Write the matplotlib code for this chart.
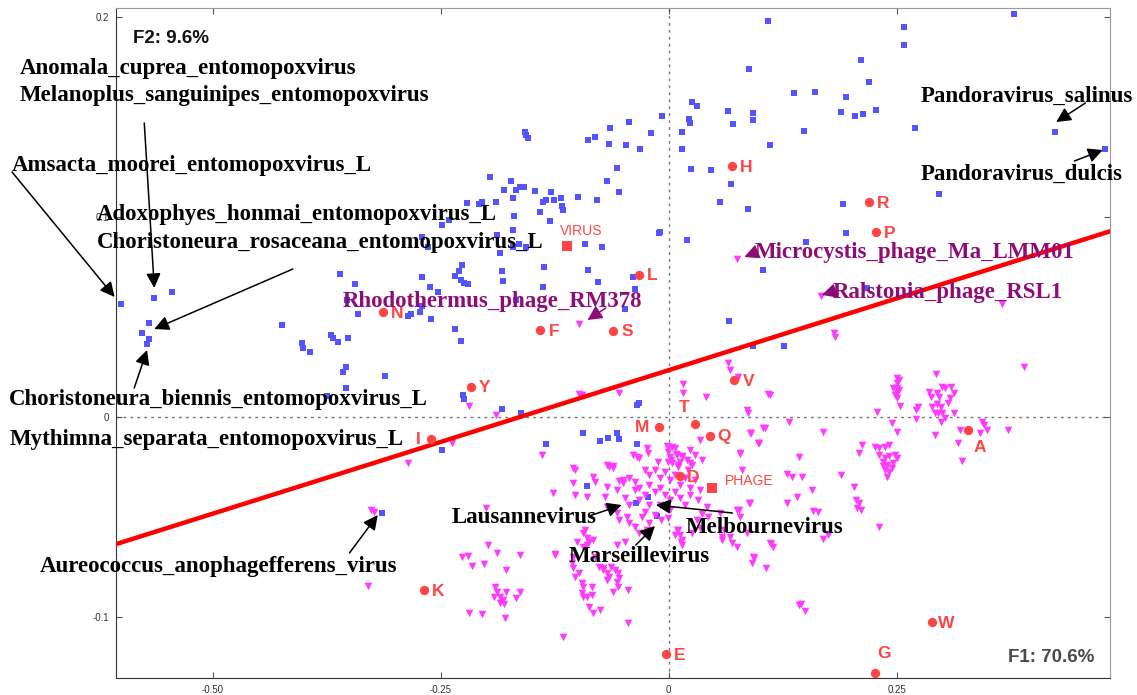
import matplotlib.pyplot as plt

# ---- data (F1, F2 coordinates) ----
aa_names = ['H', 'R', 'P', 'L', 'N', 'F', 'S', 'Y', 'V', 'M',
            'T', 'Q', 'I', 'D', 'A', 'K', 'E', 'W', 'G']
aa_f1 = [0.070, 0.220, 0.227, -0.033, -0.313, -0.141, -0.061, -0.217, 0.072, -0.011,
         0.029, 0.045, -0.261, 0.012, 0.328, -0.268, -0.003, 0.289, 0.226]
aa_f2 = [0.1255, 0.1075, 0.0925, 0.071, 0.0525, 0.0435, 0.043, 0.015, 0.0185, -0.005,
         -0.0035, -0.0095, -0.011, -0.0295, -0.0065, -0.0865, -0.1185, -0.1025, -0.128]

group_names = ['VIRUS', 'PHAGE']
group_f1 = [-0.111, 0.048]
group_f2 = [0.0855, -0.0355]

axis_labels = ['F1: 70.6%', 'F2: 9.6%']

# discriminant line
line_intercept = 0.0234
line_slope = 0.1435

virus_pts = [
    (0.379, 0.2015), (0.109, 0.198), (0.258, 0.195), (0.258, 0.186), (0.211, 0.1785),
    (0.088, 0.174), (0.220, 0.1675), (0.138, 0.162), (0.160, 0.1625), (0.194, 0.160),
    (0.026, 0.1575), (0.031, 0.1555), (-0.007, 0.1505), (0.022, 0.149), (0.023, 0.147),
    (0.065, 0.153), (0.093, 0.152), (0.092, 0.1485), (0.071, 0.1465), (0.189, 0.1525),
    (0.204, 0.1505), (0.213, 0.1515), (0.227, 0.1535), (0.270, 0.1445), (0.015, 0.1425),
    (0.148, 0.143), (0.111, 0.136), (0.015, 0.134), (0.025, 0.124), (0.047, 0.1235),
    (0.068, 0.1165), (0.056, 0.1075), (0.087, 0.104), (0.191, 0.1065), (0.194, 0.092),
    (0.297, 0.1115), (0.020, 0.0885), (0.151, 0.0875), (0.104, 0.0735), (0.218, 0.0645),
    (0.066, 0.048), (0.126, 0.0355), (0.092, 0.0355), (-0.010, 0.0925), (0.424, 0.1425),
    (0.478, 0.134), (-0.019, 0.142), (-0.043, 0.1475), (-0.064, 0.1445), (-0.081, 0.140),
    (-0.088, 0.1385), (-0.065, 0.1365), (-0.047, 0.136), (-0.031, 0.134), (-0.158, 0.1425),
    (-0.156, 0.141), (-0.154, 0.1395), (-0.057, 0.1245), (-0.068, 0.118), (-0.054, 0.1125),
    (-0.078, 0.1085), (-0.099, 0.110), (-0.118, 0.1095), (-0.117, 0.1055), (-0.116, 0.1035),
    (-0.129, 0.1125), (-0.126, 0.1085), (-0.134, 0.1085), (-0.138, 0.1075), (-0.146, 0.113),
    (-0.141, 0.1025), (-0.130, 0.098), (-0.173, 0.118), (-0.181, 0.1135), (-0.167, 0.1135),
    (-0.163, 0.115), (-0.159, 0.115), (-0.171, 0.1095), (-0.196, 0.120), (-0.189, 0.1075),
    (-0.205, 0.1075), (-0.208, 0.1065), (-0.221, 0.107), (-0.170, 0.1005), (-0.241, 0.0985),
    (-0.248, 0.096), (-0.171, 0.0935), (-0.188, 0.091), (-0.270, 0.090), (-0.011, 0.092),
    (-0.092, 0.0865), (-0.073, 0.085), (-0.156, 0.085), (-0.264, 0.085), (-0.185, 0.082),
    (-0.171, 0.085), (-0.164, 0.0865), (-0.137, 0.075), (-0.183, 0.073), (-0.182, 0.068),
    (-0.138, 0.065), (-0.227, 0.076), (-0.230, 0.073), (-0.234, 0.0705), (-0.228, 0.0685),
    (-0.224, 0.067), (-0.220, 0.0665), (-0.270, 0.070), (-0.262, 0.065), (-0.253, 0.0625),
    (-0.360, 0.0715), (-0.344, 0.0665), (-0.341, 0.0515), (-0.286, 0.0505), (-0.282, 0.0515),
    (-0.273, 0.0525), (-0.270, 0.0555), (-0.261, 0.049), (-0.088, 0.0735), (-0.077, 0.0675),
    (-0.039, 0.070), (-0.037, 0.064), (-0.048, 0.054), (-0.424, 0.046), (-0.370, 0.041),
    (-0.368, 0.0395), (-0.363, 0.0375), (-0.352, 0.0395), (-0.402, 0.037), (-0.401, 0.0345),
    (-0.393, 0.0325), (-0.234, 0.044), (-0.228, 0.038), (-0.354, 0.025), (-0.357, 0.0225),
    (-0.311, 0.0205), (-0.354, 0.0145), (-0.226, 0.011), (-0.224, 0.009), (-0.183, 0.004),
    (-0.162, 0.002), (-0.035, 0.006), (-0.033, 0.007), (-0.375, 0.0105), (-0.353, 0.0585),
    (-0.167, 0.0585), (-0.601, 0.0565), (-0.564, 0.0595), (-0.545, 0.0625), (-0.570, 0.047),
    (-0.577, 0.042), (-0.570, 0.039), (-0.572, 0.0365), (-0.094, -0.008), (-0.075, -0.012),
    (-0.066, -0.0105), (-0.057, -0.008), (-0.054, -0.011), (-0.135, -0.0135), (-0.035, -0.0135),
    (-0.248, -0.0165), (-0.090, -0.0345), (-0.036, -0.043), (-0.023, -0.040), (-0.013, -0.0495),
    (-0.314, -0.048),
]

phage_pts = [
    (0.065, 0.027), (0.067, 0.0235), (0.016, 0.0165), (0.016, 0.012), (0.041, 0.010),
    (0.086, 0.0035), (0.087, 0.002), (0.109, 0.0115), (-0.098, 0.0115), (-0.054, 0.012),
    (-0.024, -0.0155), (-0.023, -0.018), (-0.001, -0.015), (-0.001, -0.0175), (0.001, -0.020),
    (0.003, -0.0215), (0.007, -0.0155), (0.009, -0.019), (0.004, -0.023), (0.010, -0.025),
    (0.015, -0.020), (0.012, -0.0225), (0.037, -0.0215), (0.026, -0.024), (-0.035, -0.020),
    (0.078, -0.018), (0.098, -0.013), (0.090, -0.008), (0.106, -0.0055), (0.034, -0.0115),
    (0.081, -0.0265), (-0.065, -0.025), (-0.061, -0.0255), (-0.105, -0.0255), (-0.083, -0.030),
    (-0.068, -0.035), (-0.057, -0.0365), (-0.050, -0.0315), (-0.043, -0.0305), (-0.037, -0.0325),
    (-0.026, -0.0265), (-0.021, -0.029), (-0.015, -0.0265), (-0.010, -0.0305), (-0.004, -0.0275),
    (0.001, -0.0315), (0.007, -0.029), (0.012, -0.034), (0.018, -0.0305), (0.023, -0.0355),
    (-0.021, -0.034), (-0.015, -0.0375), (-0.010, -0.0355), (-0.004, -0.039), (0.001, -0.0415),
    (0.007, -0.0375), (0.012, -0.0405), (0.018, -0.044), (0.023, -0.039), (-0.026, -0.039),
    (-0.032, -0.0355), (-0.021, -0.044), (-0.010, -0.044), (0.001, -0.0465), (-0.032, -0.0415),
    (-0.037, -0.0365), (0.029, -0.0315), (0.034, -0.0365), (0.032, -0.0415), (0.021, -0.0265),
    (0.010, -0.024), (-0.001, -0.0225), (-0.012, -0.0225), (0.023, -0.0165), (0.029, -0.019),
    (-0.015, -0.049), (-0.008, -0.0515), (-0.026, -0.0475), (-0.043, -0.044), (-0.048, -0.0405),
    (0.042, -0.045), (0.056, -0.048), (0.075, -0.0465), (0.078, -0.050), (0.088, -0.043),
    (-0.068, -0.045), (-0.057, -0.048), (-0.054, -0.0515), (-0.046, -0.050), (-0.043, -0.053),
    (-0.037, -0.055), (-0.032, -0.058), (-0.029, -0.050), (-0.021, -0.053), (-0.024, -0.0565),
    (0.009, -0.0565), (0.012, -0.059), (0.015, -0.0615), (0.015, -0.064), (0.026, -0.058),
    (0.034, -0.0555), (0.031, -0.0515), (0.059, -0.060), (0.058, -0.0615), (0.070, -0.063),
    (0.092, -0.070), (0.091, -0.073), (0.107, -0.0755), (-0.127, -0.038), (-0.103, -0.039),
    (-0.090, -0.040), (-0.070, -0.040), (-0.094, -0.058), (-0.090, -0.0605), (-0.087, -0.0625),
    (-0.083, -0.0615), (-0.089, -0.064), (-0.094, -0.065), (-0.101, -0.0625), (-0.092, -0.0565),
    (-0.125, -0.069), (-0.105, -0.070), (-0.106, -0.073), (-0.105, -0.0755), (-0.098, -0.078),
    (-0.103, -0.080), (-0.095, -0.083), (-0.095, -0.088), (-0.090, -0.090), (-0.087, -0.095),
    (-0.076, -0.075), (-0.072, -0.0765), (-0.068, -0.078), (-0.065, -0.080), (-0.059, -0.0765),
    (-0.056, -0.078), (-0.054, -0.0805), (-0.057, -0.0825), (-0.068, -0.0815), (-0.072, -0.0755),
    (-0.063, -0.075), (-0.045, -0.0865), (-0.084, -0.085), (-0.081, -0.070), (-0.048, -0.0625),
    (-0.057, -0.064), (-0.286, -0.023), (-0.139, -0.019), (-0.103, -0.0265), (-0.105, -0.033),
    (-0.081, -0.0325), (-0.068, -0.024), (-0.061, -0.0245), (-0.054, -0.032), (-0.050, -0.033),
    (-0.039, -0.019), (-0.032, -0.0205), (-0.200, -0.0455), (-0.198, -0.064), (-0.227, -0.070),
    (-0.220, -0.0695), (-0.216, -0.0745), (-0.202, -0.0735), (-0.188, -0.068), (-0.178, -0.0765),
    (-0.163, -0.069), (-0.125, -0.0685), (-0.190, -0.085), (-0.188, -0.0875), (-0.185, -0.090),
    (-0.191, -0.090), (-0.182, -0.0915), (-0.178, -0.0875), (-0.180, -0.0935), (-0.185, -0.093),
    (-0.167, -0.0905), (-0.163, -0.0875), (-0.219, -0.098), (-0.205, -0.0985), (-0.179, -0.1005),
    (-0.116, -0.110), (-0.094, -0.085), (-0.084, -0.089), (-0.094, -0.090), (-0.083, -0.098),
    (-0.075, -0.0965), (-0.061, -0.0875), (-0.056, -0.085), (-0.045, -0.103), (0.020, -0.0215),
    (0.023, -0.023), (0.008, -0.0185), (0.015, -0.0195), (0.078, -0.0185), (0.130, -0.0285),
    (0.135, -0.030), (0.089, -0.043), (0.077, -0.0465), (0.130, -0.043), (0.037, -0.0485),
    (0.043, -0.050), (0.061, -0.0565), (0.067, -0.060), (0.075, -0.065), (0.086, -0.058),
    (0.111, -0.063), (0.114, -0.065), (0.094, -0.0705), (0.143, -0.094), (0.007, -0.059),
    (0.014, -0.0625), (-0.001, -0.0505), (0.010, -0.0565), (0.143, -0.020), (0.209, -0.018),
    (0.231, -0.019), (0.237, -0.0205), (0.242, -0.0195), (0.248, -0.019), (0.250, -0.0205),
    (0.235, -0.0225), (0.240, -0.024), (0.246, -0.023), (0.237, -0.0265), (0.242, -0.0275),
    (0.240, -0.030), (0.235, -0.0245), (0.245, -0.0255), (0.322, -0.022), (0.146, -0.030),
    (0.189, -0.029), (0.157, -0.0365), (0.203, -0.035), (0.141, -0.040), (0.206, -0.0415),
    (0.209, -0.043), (0.207, -0.0455), (0.211, -0.0465), (0.158, -0.047), (0.164, -0.0475),
    (0.231, -0.055), (0.169, -0.061), (0.175, -0.059), (0.112, -0.0635), (0.145, -0.0935),
    (0.150, -0.097), (0.167, 0.0605), (0.366, 0.0565), (0.181, 0.042), (0.182, 0.040),
    (0.390, 0.025), (0.293, 0.0215), (0.250, 0.0195), (0.250, 0.017), (0.250, 0.0145),
    (0.250, 0.012), (0.250, 0.0095), (0.253, 0.0185), (0.253, 0.0135), (0.248, 0.011),
    (0.246, 0.0145), (0.286, 0.0125), (0.288, 0.010), (0.294, 0.012), (0.297, 0.010),
    (0.300, 0.015), (0.303, 0.0145), (0.310, 0.015), (0.313, 0.012), (0.308, 0.0095),
    (0.306, 0.007), (0.294, 0.0065), (0.299, 0.005), (0.289, 0.005), (0.300, 0.002),
    (0.303, -0.0005), (0.299, -0.0025), (0.295, 0.002), (0.292, 0.002), (0.313, 0.002),
    (0.111, 0.011), (0.228, 0.0025), (0.254, 0.0055), (0.273, 0.005), (0.271, 0.0035),
    (0.271, -0.001), (0.245, -0.003), (0.132, -0.0025), (0.104, -0.0055), (0.169, -0.0075),
    (0.250, -0.0075), (0.320, -0.0065), (0.344, -0.0025), (0.346, -0.004), (0.349, -0.0065),
    (0.341, -0.008), (0.372, -0.0065), (0.292, -0.009), (0.317, -0.013), (0.212, -0.014),
    (0.226, -0.015), (0.231, -0.0155), (0.237, -0.015), (0.242, -0.014), (0.099, -0.013),
    (0.089, -0.008), (0.075, 0.079), (-0.098, 0.0465), (0.076, 0.020), (-0.095, 0.011),
    (-0.219, 0.0055), (-0.189, 0.001), (-0.238, -0.013), (-0.002, -0.0145), (0.004, -0.015),
    (-0.326, -0.0465), (-0.323, -0.0475), (-0.330, -0.0845),
]

# labelled genomes: (name, text position, arrow start, arrow tip)
black_labels = [
    ('Anomala_cuprea_entomopoxvirus', (-0.712, 0.1715), None, None),
    ('Melanoplus_sanguinipes_entomopoxvirus', (-0.712, 0.158), (-0.575, 0.147), (-0.564, 0.0645)),
    ('Amsacta_moorei_entomopoxvirus_L', (-0.720, 0.123), (-0.720, 0.1225), (-0.6075, 0.060)),
    ('Adoxophyes_honmai_entomopoxvirus_L', (-0.627, 0.0985), None, None),
    ('Choristoneura_rosaceana_entomopoxvirus_L', (-0.627, 0.0845), (-0.412, 0.074), (-0.564, 0.044)),
    ('Choristoneura_biennis_entomopoxvirus_L', (-0.723, 0.006), (-0.586, 0.0145), (-0.572, 0.0335)),
    ('Mythimna_separata_entomopoxvirus_L', (-0.723, -0.014), None, None),
    ('Aureococcus_anophagefferens_virus', (-0.690, -0.0775), (-0.350, -0.068), (-0.319, -0.049)),
    ('Pandoravirus_salinus', (0.276, 0.1575), (0.457, 0.157), (0.425, 0.1475)),
    ('Pandoravirus_dulcis', (0.276, 0.1185), (0.445, 0.128), (0.476, 0.1335)),
    ('Lausannevirus', (-0.238, -0.053), (-0.087, -0.0495), (-0.0515, -0.044)),
    ('Melbournevirus', (0.019, -0.058), (0.070, -0.048), (-0.014, -0.044)),
    ('Marseillevirus', (-0.110, -0.0725), (-0.036, -0.064), (-0.015, -0.0545)),
]

purple_labels = [
    ('Rhodothermus_phage_RM378', (-0.357, 0.055), (-0.069, 0.0545), (-0.089, 0.0485)),
    ('Microcystis_phage_Ma_LMM01', (0.094, 0.0795), (0.0965, 0.0825), (0.083, 0.080)),
    ('Ralstonia_phage_RSL1', (0.180, 0.0595), (0.182, 0.063), (0.168, 0.061)),
]

# label offsets in pixels for the red letters
aa_offsets = {'M': (-17, 0), 'I': (-12, 0), 'T': (-11, 16), 'A': (12, -17), 'G': (9, 19)}

RED = '#FF4444'
BLUE = '#5353FF'
MAGENTA = '#FF3BFF'
PURPLE = '#8E0C78'
LABEL_SIZE = 16.5

plt.rcParams['font.family'] = ['Liberation Sans', 'DejaVu Sans']

fig = plt.figure(figsize=(11.37, 6.95), dpi=100)
ax = fig.add_axes([116 / 1137, 17 / 695, 994 / 1137, 670 / 695])
ax.set_xlim(-0.606, 0.484)
ax.set_ylim(-0.1305, 0.2045)

ax.axhline(0, color='#777777', lw=1, ls=(0, (2, 3)), zorder=1)
ax.axvline(0, color='#777777', lw=1, ls=(0, (2, 3)), zorder=1)

vx, vy = zip(*virus_pts)
phx, phy = zip(*phage_pts)
ax.scatter(vx, vy, marker='s', s=20, color=BLUE, linewidths=0, zorder=2)
ax.scatter(phx, phy, marker='v', s=30, color=MAGENTA, linewidths=0, zorder=3)

ax.axline((0, line_intercept), slope=line_slope, color='#FF0000', lw=3.2, zorder=4)

ax.scatter(aa_f1, aa_f2, marker='o', s=45, color=RED, linewidths=0, zorder=5)
for name, x, y in zip(aa_names, aa_f1, aa_f2):
    off = aa_offsets.get(name, (14, -1))
    ax.annotate(name, (x, y), xytext=off, textcoords='offset pixels',
                ha='center', va='center', color=RED, fontsize=12.5,
                fontweight='bold', zorder=6)

ax.scatter(group_f1, group_f2, marker='s', s=50, color=RED, linewidths=0, zorder=5)
ax.annotate(group_names[0], (group_f1[0], group_f2[0]), xytext=(14, 15),
            textcoords='offset pixels', ha='center', va='center', color=RED, fontsize=10)
ax.annotate(group_names[1], (group_f1[1], group_f2[1]), xytext=(12, 7),
            textcoords='offset pixels', ha='left', va='center', color=RED, fontsize=10)

for name, txt, start, tip in black_labels:
    ax.text(txt[0], txt[1], name, fontfamily='Liberation Serif', fontweight='bold',
            fontsize=LABEL_SIZE, color='black', ha='left', va='baseline',
            clip_on=False, zorder=8)
    if tip is not None:
        ax.annotate('', xy=tip, xytext=start, annotation_clip=False,
                    arrowprops=dict(arrowstyle='-|>', color='black', lw=1.1,
                                    mutation_scale=22, shrinkA=0, shrinkB=0), zorder=8)

for name, txt, start, tip in purple_labels:
    ax.text(txt[0], txt[1], name, fontfamily='Liberation Serif', fontweight='bold',
            fontsize=LABEL_SIZE, color=PURPLE, ha='left', va='baseline', zorder=8)
    ax.annotate('', xy=tip, xytext=start,
                arrowprops=dict(arrowstyle='-|>', color=PURPLE, lw=1.1,
                                mutation_scale=22, shrinkA=0, shrinkB=0), zorder=8)

ax.text(0.017, 0.955, axis_labels[1], transform=ax.transAxes,
        fontsize=13.5, fontweight='bold', color='#111111', va='center')
ax.text(0.897, 0.03, axis_labels[0], transform=ax.transAxes,
        fontsize=13.5, fontweight='bold', color='#4a4a4a', va='center')

ax.set_xticks([-0.5, -0.25, 0, 0.25])
ax.set_xticklabels(['-0.50', '-0.25', '0', '0.25'])
ax.set_yticks([-0.1, 0, 0.1, 0.2])
ax.set_yticklabels(['-0.1', '0', '0.1', '0.2'])
ax.tick_params(direction='in', length=4, top=True, right=True, labelsize=7,
               labelcolor='#333333', color='#555555', pad=5)
for side in ['left', 'bottom']:
    ax.spines[side].set_color('#333333')
for side in ['top', 'right']:
    ax.spines[side].set_color('#999999')

fig.savefig('out.png', dpi=100)
